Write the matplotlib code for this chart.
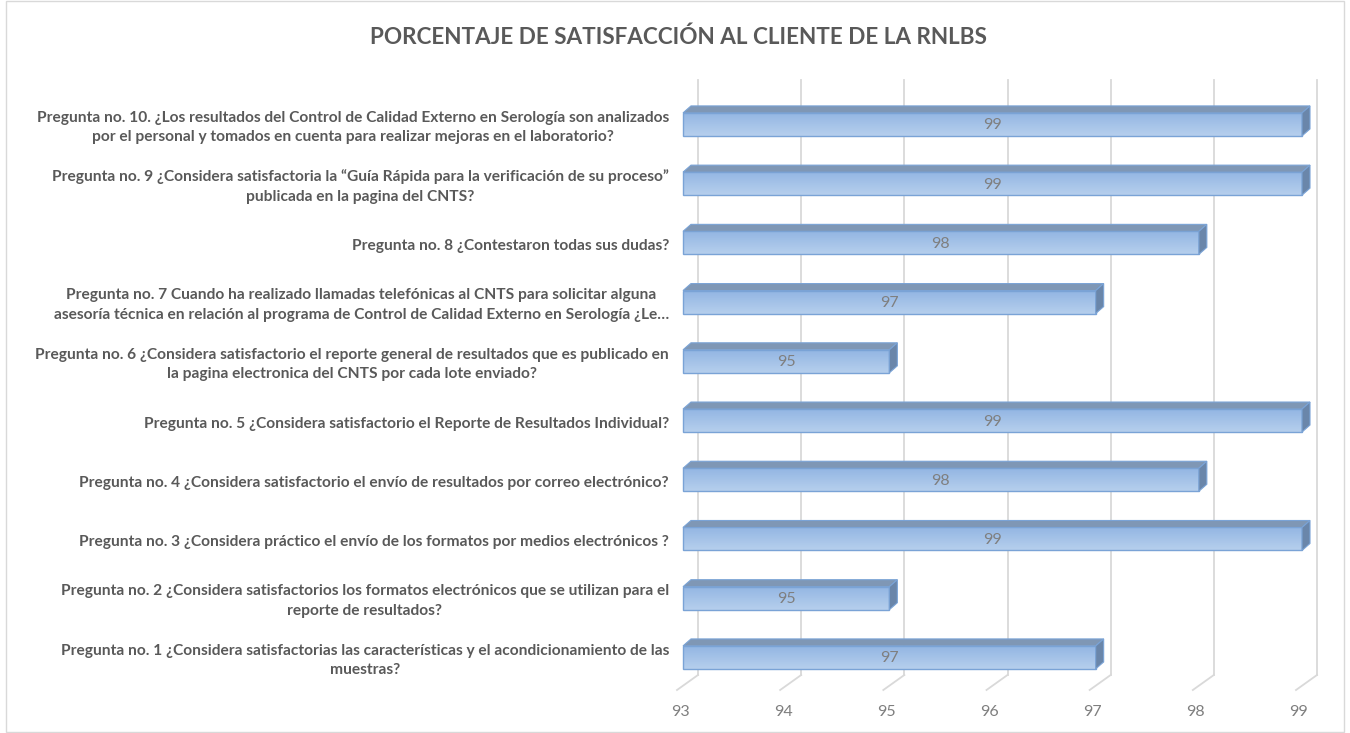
import numpy as np
import matplotlib
matplotlib.use("Agg")
import matplotlib.pyplot as plt
from matplotlib.patches import Polygon, Rectangle

plt.rcParams['font.family'] = ['Lato', 'DejaVu Sans']

# data (bottom to top)
preguntas = [
    "Pregunta no. 1 ¿Considera satisfactorias las características y el acondicionamiento de las\nmuestras?",
    "Pregunta no. 2 ¿Considera satisfactorios los formatos electrónicos que se utilizan para el\nreporte de resultados?",
    "Pregunta no. 3 ¿Considera práctico el envío de los formatos por medios electrónicos ?",
    "Pregunta no. 4 ¿Considera satisfactorio el envío de resultados por correo electrónico?",
    "Pregunta no. 5 ¿Considera satisfactorio el Reporte de Resultados Individual?",
    "Pregunta no. 6 ¿Considera satisfactorio el reporte general de resultados que es publicado en\nla pagina electronica del CNTS por cada lote enviado?",
    "Pregunta no. 7 Cuando ha realizado llamadas telefónicas al CNTS para solicitar alguna\nasesoría técnica en relación al programa de Control de Calidad Externo en Serología ¿Le…",
    "Pregunta no. 8 ¿Contestaron todas sus dudas?",
    "Pregunta no. 9 ¿Considera satisfactoria la “Guía Rápida para la verificación de su proceso”\npublicada en la pagina del CNTS?",
    "Pregunta no. 10. ¿Los resultados del Control de Calidad Externo en Serología son analizados\npor el personal y tomados en cuenta para realizar mejoras en el laboratorio?",
]
porcentaje = [97, 95, 99, 98, 99, 95, 97, 98, 99, 99]
x_ticks = [93, 94, 95, 96, 97, 98, 99]

W, H = 1350, 733
fig = plt.figure(figsize=(W / 100, H / 100), dpi=100)
fig.patches.append(Rectangle((6 / W, 0.001), 1 - 12 / W, 0.997, transform=fig.transFigure,
                             fill=False, edgecolor='#d9d9d9', lw=1))

# axes: 93 -> px 683, 99 -> px 1302 ; bottom px 690, top px 80
ax = fig.add_axes([683 / W, (H - 690) / H, (1302 - 683) / W, (690 - 80) / H])
xmin, xmax = 93, 99
ymin, ymax = -0.55, 9.75
ax.set_xlim(xmin, xmax)
ax.set_ylim(ymin, ymax)
ax.axis('off')

ux = (1302 - 683) / (xmax - xmin)   # px per x unit
uy = (690 - 80) / (ymax - ymin)     # px per y unit
dx, dy = 8 / ux, 7 / uy             # depth
h = 23 / uy

# back walls / grid
for t in x_ticks:
    xb = t + 15 / ux
    xf = t - 6 / ux
    ax.plot([xb, xb], [ymin + 15 / uy, ymax], color='#d9d9d9', lw=1.3, clip_on=False, zorder=0)
    ax.plot([xf, xb], [ymin, ymin + 15 / uy], color='#d9d9d9', lw=1.3, clip_on=False, zorder=0)
    ax.text(t - 3 / ux, ymin - 22 / uy, str(t), ha='center', va='center',
            color='#7f7f7f', fontsize=11.5)

grad = np.linspace(0, 1, 64).reshape(-1, 1)
cmap = matplotlib.colors.LinearSegmentedColormap.from_list('b', ['#b6cfed', '#93b6e3'])

for i, v in enumerate(porcentaje):
    y0, y1 = i - h / 2, i + h / 2
    ax.imshow(grad, extent=[xmin, v, y1, y0], cmap=cmap, aspect='auto', zorder=2,
              origin='upper', clip_on=False)
    ax.add_patch(Rectangle((xmin, y0), v - xmin, h, fill=False, edgecolor='#7aa3d6', lw=1,
                           zorder=3, clip_on=False))
    top = Polygon([(xmin, y1), (v, y1), (v + dx, y1 + dy), (xmin + dx, y1 + dy)],
                  closed=True, facecolor='#7f97b5', edgecolor='#7aa3d6', lw=0.8, zorder=3,
                  clip_on=False)
    side = Polygon([(v, y0), (v, y1), (v + dx, y1 + dy), (v + dx, y0 + dy)],
                   closed=True, facecolor='#6a86aa', edgecolor='#7aa3d6', lw=0.8, zorder=3,
                   clip_on=False)
    ax.add_patch(top)
    ax.add_patch(side)
    ax.text((xmin + v) / 2, i - 1 / uy, str(v), ha='center', va='center', color='#7f7f7f',
            fontsize=11.5, zorder=4)
    ax.annotate(preguntas[i], xy=(xmin, i), xytext=(-14, -3), textcoords='offset pixels',
                ha='right', va='center', multialignment='center', fontsize=11.2,
                fontweight='bold', color='#595959', linespacing=1.5)

ax.set_xlim(xmin, xmax)
ax.set_ylim(ymin, ymax)

fig.text(678 / W, 1 - 37 / H, 'PORCENTAJE DE SATISFACCIÓN AL CLIENTE DE LA RNLBS',
         ha='center', va='center', fontsize=16.2, fontweight='bold', color='#595959')

fig.savefig('out.png', dpi=100)
